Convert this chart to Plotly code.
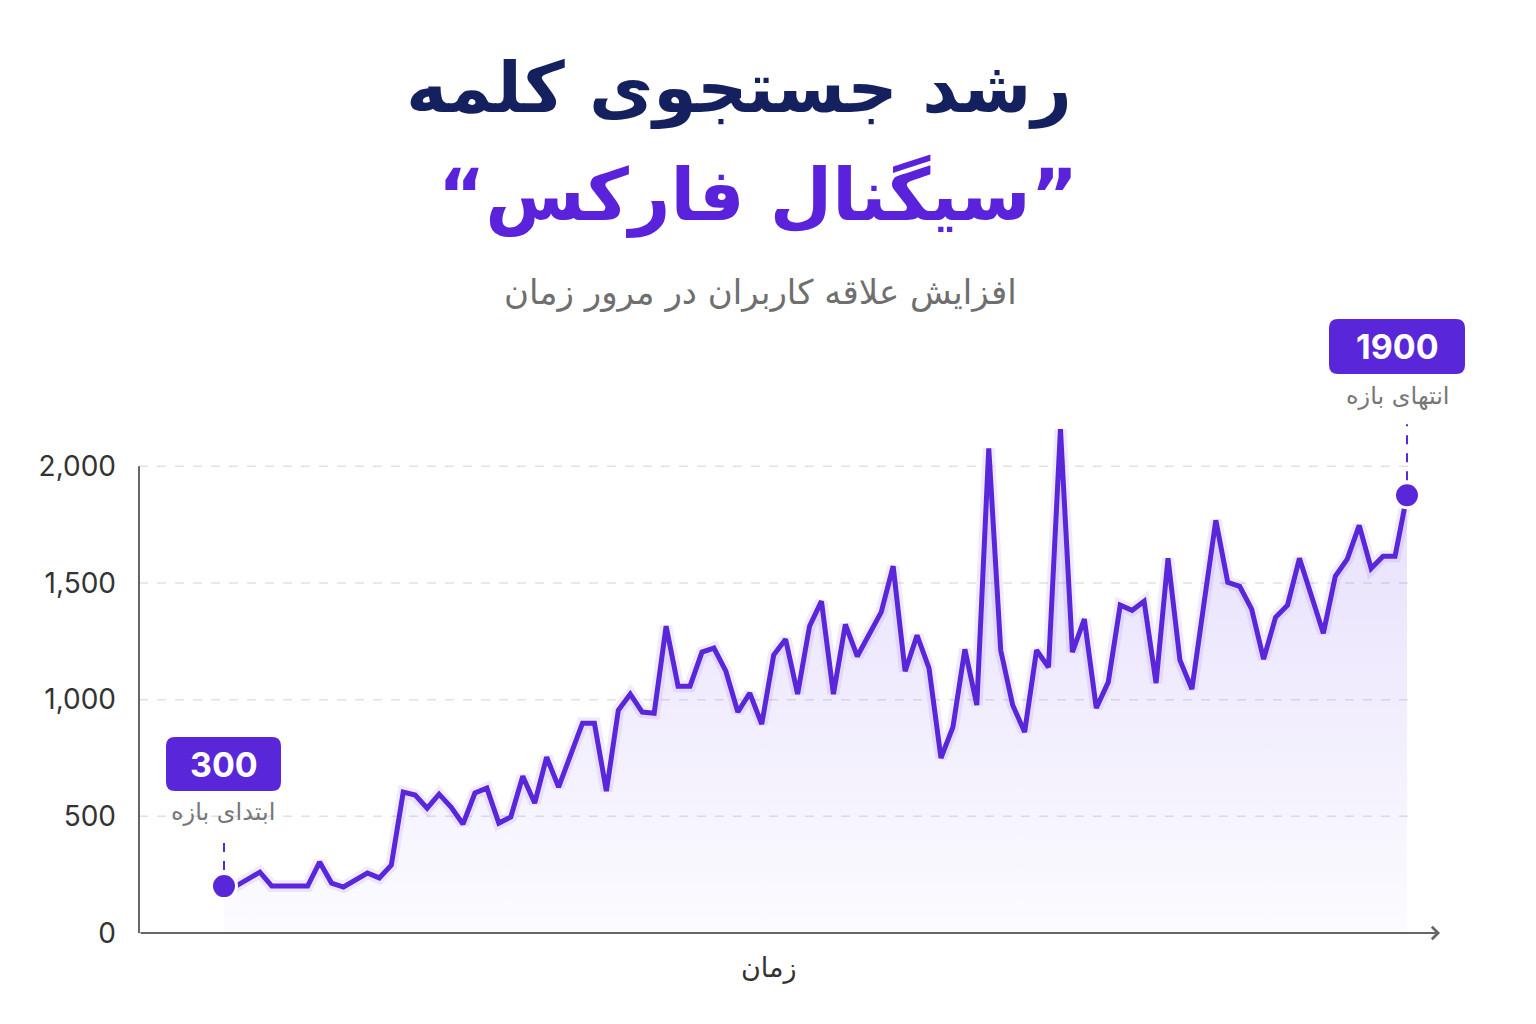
import plotly.graph_objects as go

# ---------------- data ----------------
title_line1 = "رشد جستجوی کلمه"
title_line2 = "“سیگنال فارکس”"
subtitle = "افزایش علاقه کاربران در مرور زمان"
x_title = "زمان"
start_label = "ابتدای بازه"
end_label = "انتهای بازه"
start_badge = "300"
end_badge = "1900"

y_ticks = [0, 500, 1000, 1500, 2000]
y_tick_text = ["0", "500", "1,000", "1,500", "2,000"]

search_volume = [
    201, 201, 231, 261, 201, 201, 201, 201, 304, 214, 197, 227,
    257, 236, 291, 604, 591, 535, 595, 540, 467, 600,
    621, 471, 497, 672, 557, 754, 625, 762, 899, 899,
    608, 955, 1024, 947, 942, 1315, 1058, 1058, 1204, 1221,
    1122, 947, 1028, 895, 1191, 1259, 1024, 1315, 1422, 1024,
    1323, 1186, 1281, 1375, 1572, 1122, 1276, 1135, 750, 882,
    1216, 977, 2077, 1212, 977, 861, 1212, 1139, 2159, 1204,
    1345, 964, 1075, 1405, 1383, 1422, 1071, 1606, 1169, 1045,
    1409, 1769, 1503, 1486, 1388, 1174, 1353, 1405, 1606, 1448,
    1285, 1529, 1602, 1747, 1563, 1615, 1615, 1876,
]
time_index = list(range(len(search_volume)))

# ---------------- style / layout ----------------
W, H = 1536, 1024
ML, MR, MT, MB = 139, 96, 408, 91
PW, PH = W - ML - MR, H - MT - MB
BASE = H - MB

PURPLE = "#5a26d9"
NAVY = "#15215e"
GRAY_TXT = "#6f6f6f"
AXIS = "#666666"
AR_FONT = "DejaVu Sans"
NUM_FONT = "Inter"

def px(xp):
    return (xp - ML) / PW

def py(yp):
    return (BASE - yp) / PH

first_i, last_i = time_index[0], time_index[-1]
first_v, last_v = search_volume[0], search_volume[-1]

# horizontal mapping: first point at 224px, last at 1407px
step = (1407 - 224) / (len(search_volume) - 1)
x_lo = (ML - 224) / step
x_hi = (1440 - 224) / step

fig = go.Figure()

# gradient area
fig.add_trace(go.Scatter(
    x=time_index, y=search_volume, mode="lines",
    line=dict(width=0, color="rgba(0,0,0,0)"),
    fill="tozeroy",
    fillgradient=dict(type="vertical", start=0, stop=2150,
                      colorscale=[[0, "rgba(120,80,240,0.02)"],
                                  [1, "rgba(120,80,240,0.20)"]]),
    hoverinfo="skip", showlegend=False,
))
# soft glow
fig.add_trace(go.Scatter(
    x=time_index, y=search_volume, mode="lines",
    line=dict(width=12, color="rgba(90,38,217,0.09)"),
    hoverinfo="skip", showlegend=False,
))
# main line
fig.add_trace(go.Scatter(
    x=time_index, y=search_volume, mode="lines",
    line=dict(width=5, color=PURPLE, shape="linear"),
    showlegend=False,
))
# end-point dots
fig.add_trace(go.Scatter(
    x=[first_i, last_i], y=[first_v, last_v], mode="markers",
    marker=dict(size=25, color=PURPLE, line=dict(width=3, color="white")),
    showlegend=False,
))

shapes = []
# dashed grid lines
for t in y_ticks[1:]:
    shapes.append(dict(type="line", xref="x domain", yref="y",
                       x0=0, x1=0.981, y0=t, y1=t,
                       line=dict(color="#e2e2e6", width=1.5, dash="dash"),
                       layer="below"))
# y axis line
shapes.append(dict(type="line", xref="x domain", yref="y",
                   x0=0, x1=0, y0=0, y1=y_ticks[-1],
                   line=dict(color=AXIS, width=2)))
# dashed connectors
shapes.append(dict(type="line", xref="x", yref="y", xsizemode="pixel", ysizemode="pixel",
                   xanchor=first_i, yanchor=first_v, x0=0, x1=0, y0=16, y1=48,
                   line=dict(color=PURPLE, width=2, dash="dash")))
shapes.append(dict(type="line", xref="x", yref="y", xsizemode="pixel", ysizemode="pixel",
                   xanchor=last_i, yanchor=last_v, x0=0, x1=0, y0=15, y1=71,
                   line=dict(color=PURPLE, width=2, dash="dash")))

def rounded_rect(w, h, r):
    a, b = w / 2, h / 2
    return (f"M {-a + r},{-b} L {a - r},{-b} Q {a},{-b} {a},{-b + r} "
            f"L {a},{b - r} Q {a},{b} {a - r},{b} L {-a + r},{b} "
            f"Q {-a},{b} {-a},{b - r} L {-a},{-b + r} Q {-a},{-b} {-a + r},{-b} Z")

shapes.append(dict(type="path", xref="paper", yref="paper",
                   xsizemode="pixel", ysizemode="pixel",
                   xanchor=px(223.5), yanchor=py(764),
                   path=rounded_rect(115, 54, 9),
                   fillcolor=PURPLE, line=dict(width=0)))
shapes.append(dict(type="path", xref="paper", yref="paper",
                   xsizemode="pixel", ysizemode="pixel",
                   xanchor=px(1397), yanchor=py(346.5),
                   path=rounded_rect(136, 55, 9),
                   fillcolor=PURPLE, line=dict(width=0)))

annotations = [
    # x axis with arrow
    dict(x=x_hi, y=0, ax=x_lo, ay=0, xref="x", yref="y", axref="x", ayref="y",
         text="", showarrow=True, arrowhead=4, arrowsize=1.2, arrowwidth=2,
         arrowcolor=AXIS, standoff=0, startstandoff=0),
    dict(x=px(739), y=py(88), xref="paper", yref="paper", text=f"<b>{title_line1}</b>",
         showarrow=False, font=dict(family=AR_FONT, size=70, color=NAVY),
         xanchor="center", yanchor="middle"),
    dict(x=px(758), y=py(195), xref="paper", yref="paper", text=f"<b>{title_line2}</b>",
         showarrow=False, font=dict(family=AR_FONT, size=72, color="#5b22dc"),
         xanchor="center", yanchor="middle"),
    dict(x=px(760), y=py(292), xref="paper", yref="paper", text=subtitle,
         showarrow=False, font=dict(family=AR_FONT, size=34, color=GRAY_TXT),
         xanchor="center", yanchor="middle"),
    dict(x=px(769), y=py(968), xref="paper", yref="paper", text=x_title,
         showarrow=False, font=dict(family=AR_FONT, size=27, color="#333333"),
         xanchor="center", yanchor="middle"),
    dict(x=px(223.5), y=py(764), xref="paper", yref="paper", text=f"<b>{start_badge}</b>",
         showarrow=False, font=dict(family=NUM_FONT, size=34, color="white"),
         xanchor="center", yanchor="middle"),
    dict(x=px(1397), y=py(346.5), xref="paper", yref="paper", text=f"<b>{end_badge}</b>",
         showarrow=False, font=dict(family=NUM_FONT, size=34, color="white"),
         xanchor="center", yanchor="middle"),
    dict(x=px(223), y=py(812), xref="paper", yref="paper", text=start_label,
         showarrow=False, font=dict(family=AR_FONT, size=24, color="#777777"),
         xanchor="center", yanchor="middle"),
    dict(x=px(1398), y=py(396), xref="paper", yref="paper", text=end_label,
         showarrow=False, font=dict(family=AR_FONT, size=24, color="#777777"),
         xanchor="center", yanchor="middle"),
]

fig.update_layout(
    width=W, height=H,
    margin=dict(l=ML, r=MR, t=MT, b=MB, pad=0),
    paper_bgcolor="white", plot_bgcolor="white",
    shapes=shapes, annotations=annotations,
    showlegend=False,
    xaxis=dict(range=[x_lo, x_hi], showgrid=False, zeroline=False,
               showline=False, showticklabels=False, ticks=""),
    yaxis=dict(range=[0, 2250], tickvals=y_ticks, ticktext=y_tick_text,
               showgrid=False, zeroline=False, showline=False, ticks="",
               ticklabelstandoff=22,
               tickfont=dict(family=NUM_FONT, size=28, color="#333333")),
)

fig.write_html("out.html")
